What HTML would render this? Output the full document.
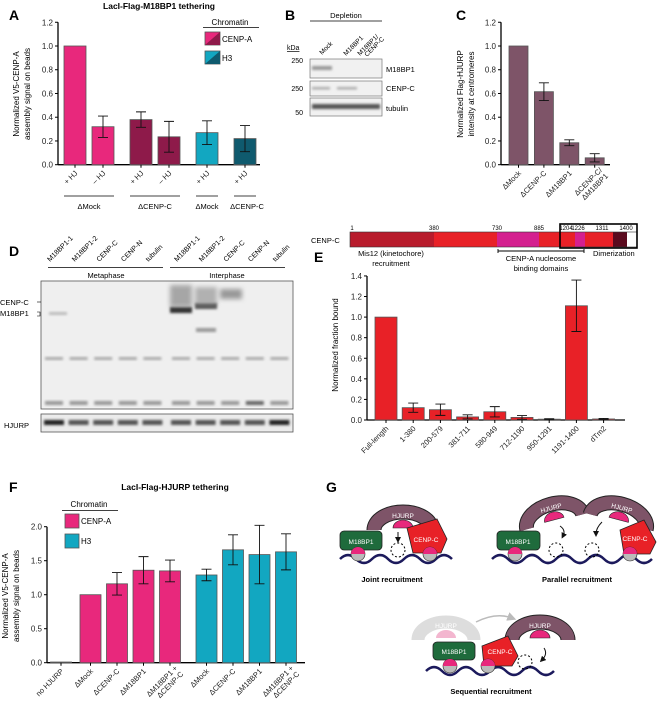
<!DOCTYPE html>
<html><head><meta charset="utf-8"><style>
html,body{margin:0;padding:0;background:#fff}
svg{display:block;font-family:"Liberation Sans",Arial,sans-serif}
</style></head><body>
<svg id="fig" width="659" height="713" viewBox="0 0 659 713" xmlns="http://www.w3.org/2000/svg">
<defs>
<filter id="blur1" x="-20%" y="-50%" width="140%" height="200%"><feGaussianBlur stdDeviation="1.2"/></filter>
<filter id="blur2" x="-20%" y="-50%" width="140%" height="200%"><feGaussianBlur stdDeviation="2.5"/></filter>
<marker id="arr" markerWidth="6" markerHeight="6" refX="3" refY="3" orient="auto"><path d="M0,0 L6,3 L0,6 z" fill="#111"/></marker>
<marker id="arrg" markerWidth="6" markerHeight="6" refX="3" refY="3" orient="auto"><path d="M0,0 L6,3 L0,6 z" fill="#bbb"/></marker>
</defs>

<g font-weight="bold" font-size="14" fill="#000">
<text x="9" y="20">A</text>
<text x="285" y="20">B</text>
<text x="456" y="20">C</text>
<text x="9" y="256">D</text>
<text x="314" y="262">E</text>
<text x="9" y="492">F</text>
<text x="326" y="492">G</text>
</g>

<g id="panelA">
<text x="159" y="9" font-size="8.5" font-weight="bold" text-anchor="middle">LacI-Flag-M18BP1 tethering</text>
<text transform="translate(19,94) rotate(-90)" font-size="8" text-anchor="middle">Normalized V5-CENP-A</text>
<text transform="translate(30,94) rotate(-90)" font-size="8" text-anchor="middle">assembly signal on beads</text>
<g>
<text x="230" y="25" font-size="8" text-anchor="middle">Chromatin</text>
<line x1="203" y1="27.5" x2="259" y2="27.5" stroke="#000" stroke-width="0.8"/>
<rect x="205" y="32" width="15" height="13" fill="#e8287c" stroke="#555" stroke-width="0.8"/>
<path d="M220,32 L220,45 L205,45 z" fill="#8e1a4a"/>
<text x="222" y="42" font-size="8">CENP-A</text>
<rect x="205" y="51" width="15" height="13" fill="#12a7c1" stroke="#555" stroke-width="0.8"/>
<path d="M220,51 L220,64 L205,64 z" fill="#0f5a6e"/>
<text x="222" y="61" font-size="8">H3</text>
</g>
<g font-size="7.5" text-anchor="middle">
<line x1="64" y1="196" x2="114" y2="196" stroke="#000" stroke-width="0.8"/>
<line x1="130" y1="196" x2="180" y2="196" stroke="#000" stroke-width="0.8"/>
<line x1="196" y1="196" x2="218" y2="196" stroke="#000" stroke-width="0.8"/>
<line x1="234" y1="196" x2="256" y2="196" stroke="#000" stroke-width="0.8"/>
<text x="89" y="209">ΔMock</text>
<text x="155" y="209">ΔCENP-C</text>
<text x="207" y="209">ΔMock</text>
<text x="247" y="209">ΔCENP-C</text>
</g>
</g>

<g id="panelB">
<text x="346" y="18" font-size="7.5" text-anchor="middle">Depletion</text>
<line x1="310" y1="21" x2="382" y2="21" stroke="#000" stroke-width="0.8"/>
<g font-size="6.5">
<text transform="translate(322,55) rotate(-45)">Mock</text>
<text transform="translate(346,56) rotate(-45)">M18BP1</text>
<text transform="translate(360,56) rotate(-45)">M18BP1/</text>
<text transform="translate(367,57) rotate(-45)">CENP-C</text>
</g>
<text x="287" y="50" font-size="7" text-decoration="underline">kDa</text>
<g font-size="7" text-anchor="end">
<text x="303" y="63">250</text><text x="303" y="91">250</text><text x="303" y="115">50</text>
</g>
<rect x="310" y="59" width="72" height="19" fill="#f1f1f1" stroke="#777" stroke-width="0.7"/>
<rect x="310" y="81" width="72" height="15" fill="#f1f1f1" stroke="#777" stroke-width="0.7"/>
<rect x="310" y="98" width="72" height="18" fill="#f1f1f1" stroke="#777" stroke-width="0.7"/>
<g filter="url(#blur1)">
<rect x="312" y="66" width="20" height="4" fill="#999"/>
<rect x="312" y="87" width="18" height="2.5" fill="#aaa"/><rect x="337" y="87" width="20" height="2.5" fill="#aaa"/>
<rect x="312" y="104" width="68" height="5" fill="#555"/>
</g>
<g font-size="7.5">
<text x="386" y="72">M18BP1</text><text x="386" y="91">CENP-C</text><text x="386" y="111">tubulin</text>
</g>
</g>

<g id="panelC">
<text transform="translate(463,94) rotate(-90)" font-size="8" text-anchor="middle">Normalized Flag-HJURP</text>
<text transform="translate(474,94) rotate(-90)" font-size="8" text-anchor="middle">intensity at centromeres</text>
</g>

<g id="panelD">
<rect x="41" y="281" width="252" height="128" fill="#efefef" stroke="#555" stroke-width="0.8"/>
<rect x="41" y="414" width="252" height="18" fill="#ececec" stroke="#555" stroke-width="0.8"/>
<g id="dlanes"></g>
<line x1="48" y1="267.5" x2="163" y2="267.5" stroke="#000" stroke-width="0.8"/>
<line x1="170" y1="267.5" x2="285" y2="267.5" stroke="#000" stroke-width="0.8"/>
<text x="106" y="278" font-size="7.5" text-anchor="middle">Metaphase</text>
<text x="227" y="278" font-size="7.5" text-anchor="middle">Interphase</text>
<text x="0" y="305" font-size="7.5">CENP-C</text>
<text x="0" y="316" font-size="7.5">M18BP1</text>
<line x1="37" y1="302" x2="41" y2="302" stroke="#000" stroke-width="0.6"/>
<path d="M37,312 h3 v4 h-3" fill="none" stroke="#000" stroke-width="0.6"/>
<text x="4" y="428" font-size="7.5">HJURP</text>
</g>

<g id="domain">
<text x="311" y="243" font-size="7.5">CENP-C</text>
<rect x="350" y="232" width="84" height="15" fill="#b81c2c"/>
<rect x="434" y="232" width="63" height="15" fill="#e82127"/>
<rect x="497" y="232" width="42" height="15" fill="#d4208f"/>
<rect x="539" y="232" width="22" height="15" fill="#e82127"/>
<rect x="561" y="232" width="14" height="15" fill="#e82127"/>
<rect x="575" y="232" width="10" height="15" fill="#d4208f"/>
<rect x="585" y="232" width="28" height="15" fill="#e82127"/>
<rect x="613" y="232" width="14" height="15" fill="#5a0a1e"/>
<rect x="627" y="232" width="10" height="15" fill="#fff"/>
<rect x="350" y="232" width="287" height="15" fill="none" stroke="#333" stroke-width="0.6"/>
<rect x="560" y="224" width="77" height="24" fill="none" stroke="#000" stroke-width="1.6"/>
<g font-size="6" text-anchor="middle">
<text x="352" y="230">1</text><text x="434" y="230">380</text><text x="497" y="230">730</text><text x="539" y="230">885</text>
<text x="566" y="230">1204</text><text x="578" y="230">1226</text><text x="602" y="230">1311</text><text x="626" y="230">1400</text>
</g>
<text x="391" y="256" font-size="7.5" text-anchor="middle">Mis12 (kinetochore)</text>
<text x="391" y="266" font-size="7.5" text-anchor="middle">recruitment</text>
<path d="M498,249 v4 M498,251 H584 M584,249 v4" stroke="#000" stroke-width="0.9" fill="none"/>
<text x="541" y="261" font-size="7.5" text-anchor="middle">CENP-A nucleosome</text>
<text x="541" y="271" font-size="7.5" text-anchor="middle">binding domains</text>
<text x="593" y="256" font-size="7.5">Dimerization</text>
</g>

<g id="panelE">
<text transform="translate(338,345) rotate(-90)" font-size="8" text-anchor="middle">Normalized fraction bound</text>
</g>

<g id="panelF">
<text x="175" y="490" font-size="8.5" font-weight="bold" text-anchor="middle">LacI-Flag-HJURP tethering</text>
<text transform="translate(8,596) rotate(-90)" font-size="8" text-anchor="middle">Normalized V5-CENP-A</text>
<text transform="translate(19,596) rotate(-90)" font-size="8" text-anchor="middle">assembly signal on beads</text>
<g>
<text x="89" y="507" font-size="8" text-anchor="middle">Chromatin</text>
<line x1="62" y1="510.5" x2="118" y2="510.5" stroke="#000" stroke-width="0.8"/>
<rect x="65" y="514" width="14" height="14" fill="#e8287c" stroke="#555" stroke-width="0.8"/>
<text x="81" y="524" font-size="8">CENP-A</text>
<rect x="65" y="534" width="14" height="14" fill="#12a7c1" stroke="#555" stroke-width="0.8"/>
<text x="81" y="544" font-size="8">H3</text>
</g>
</g>

<g id="panelG" font-size="7">
<g>
<path d="M340,559 q8,-8 16,0 t16,0 t16,0 t16,0 t16,0 t16,0 t16,0" fill="none" stroke="#1c1a5c" stroke-width="2.5"/>
<path d="M374,530 A29,18 0 0 1 432,530" fill="none" stroke="#222" stroke-width="15"/>
<path d="M374,530 A29,18 0 0 1 432,530" fill="none" stroke="#7e5468" stroke-width="13"/>
<path d="M393,528 a10,8 0 0 1 20,0 z" fill="#e8287c" stroke="#222" stroke-width="0.6"/>
<text x="403" y="518" fill="#fff" text-anchor="middle" font-size="6.5">HJURP</text>
<rect x="340" y="531" width="42" height="19" rx="4" fill="#1f6b3c" stroke="#222" stroke-width="0.8"/>
<text x="361" y="544" fill="#fff" text-anchor="middle" font-size="6.5">M18BP1</text>
<path d="M407,528 l30,-9 l10,20 l-6,14 l-28,0 z" fill="#e82127" stroke="#222" stroke-width="0.8"/>
<text x="426" y="542" fill="#fff" text-anchor="middle" font-size="6.5">CENP-C</text>
<circle cx="358" cy="554" r="7" fill="#bbb" stroke="#222" stroke-width="0.6"/><path d="M351,554 a7,7 0 0 1 14,0 z" fill="#e8287c"/>
<circle cx="430" cy="554" r="7" fill="#bbb" stroke="#222" stroke-width="0.6"/><path d="M423,554 a7,7 0 0 1 14,0 z" fill="#e8287c"/>
<circle cx="398" cy="550" r="7" fill="none" stroke="#000" stroke-dasharray="2,2"/>
<line x1="398" y1="532" x2="398" y2="540" stroke="#111" marker-end="url(#arr)"/>
<text x="392" y="582" font-weight="bold" text-anchor="middle" font-size="7.5">Joint recruitment</text>
</g>
<g>
<path d="M492,559 q8,-8 16,0 t16,0 t16,0 t16,0 t16,0 t16,0 t16,0 t16,0 t16,0 t16,0" fill="none" stroke="#1c1a5c" stroke-width="2.5"/>
<rect x="497" y="531" width="43" height="19" rx="4" fill="#1f6b3c" stroke="#222" stroke-width="0.8"/>
<text x="518" y="544" fill="#fff" text-anchor="middle" font-size="6.5">M18BP1</text>
<g transform="rotate(-15 553 515)">
<path d="M524,522 A29,18 0 0 1 582,522" fill="none" stroke="#222" stroke-width="15"/>
<path d="M524,522 A29,18 0 0 1 582,522" fill="none" stroke="#7e5468" stroke-width="13"/>
<path d="M543,520 a10,8 0 0 1 20,0 z" fill="#e8287c" stroke="#222" stroke-width="0.6"/>
<text x="553" y="510" fill="#fff" text-anchor="middle" font-size="6.5">HJURP</text>
</g>
<g transform="rotate(15 620 515)">
<path d="M591,522 A29,18 0 0 1 649,522" fill="none" stroke="#222" stroke-width="15"/>
<path d="M591,522 A29,18 0 0 1 649,522" fill="none" stroke="#7e5468" stroke-width="13"/>
<path d="M610,520 a10,8 0 0 1 20,0 z" fill="#e8287c" stroke="#222" stroke-width="0.6"/>
<text x="620" y="510" fill="#fff" text-anchor="middle" font-size="6.5">HJURP</text>
</g>
<path d="M620,530 l24,-10 l12,22 l-6,12 l-26,0 z" fill="#e82127" stroke="#222" stroke-width="0.8"/>
<text x="635" y="541" fill="#fff" text-anchor="middle" font-size="6.5">CENP-C</text>
<circle cx="515" cy="554" r="7" fill="#bbb" stroke="#222" stroke-width="0.6"/><path d="M508,554 a7,7 0 0 1 14,0 z" fill="#e8287c"/>
<circle cx="630" cy="554" r="7" fill="#bbb" stroke="#222" stroke-width="0.6"/><path d="M623,554 a7,7 0 0 1 14,0 z" fill="#e8287c"/>
<circle cx="556" cy="550" r="7" fill="none" stroke="#000" stroke-dasharray="2,2"/>
<circle cx="592" cy="550" r="7" fill="none" stroke="#000" stroke-dasharray="2,2"/>
<path d="M560,526 q6,4 3,10" fill="none" stroke="#111" marker-end="url(#arr)"/>
<path d="M602,522 q-6,6 -6,12" fill="none" stroke="#111" marker-end="url(#arr)"/>
<text x="577" y="582" font-weight="bold" text-anchor="middle" font-size="7.5">Parallel recruitment</text>
</g>
<g>
<path d="M426,671 q8,-8 16,0 t16,0 t16,0 t16,0 t16,0 t16,0 t16,0 t16,0" fill="none" stroke="#1c1a5c" stroke-width="2.5"/>
<path d="M418,640 A28,18 0 0 1 474,640" fill="none" stroke="#ddd" stroke-width="13"/>
<path d="M436,638 a10,8 0 0 1 20,0 z" fill="#f3b6cf"/>
<text x="446" y="628" fill="#fff" text-anchor="middle" font-size="6.5">HJURP</text>
<path d="M476,622 q20,-10 36,-4" fill="none" stroke="#bbb" stroke-width="1.5" marker-end="url(#arrg)"/>
<path d="M512,640 A28,18 0 0 1 568,640" fill="none" stroke="#222" stroke-width="15"/>
<path d="M512,640 A28,18 0 0 1 568,640" fill="none" stroke="#7e5468" stroke-width="13"/>
<path d="M530,638 a10,8 0 0 1 20,0 z" fill="#e8287c" stroke="#222" stroke-width="0.6"/>
<text x="540" y="628" fill="#fff" text-anchor="middle" font-size="6.5">HJURP</text>
<rect x="433" y="642" width="42" height="18" rx="4" fill="#1f6b3c" stroke="#222" stroke-width="0.8"/>
<text x="454" y="654" fill="#fff" text-anchor="middle" font-size="6.5">M18BP1</text>
<path d="M482,646 l26,-10 l10,20 l-6,10 l-28,0 z" fill="#e82127" stroke="#222" stroke-width="0.8"/>
<text x="500" y="654" fill="#fff" text-anchor="middle" font-size="6.5">CENP-C</text>
<circle cx="450" cy="666" r="7" fill="#bbb" stroke="#222" stroke-width="0.6"/><path d="M443,666 a7,7 0 0 1 14,0 z" fill="#e8287c"/>
<circle cx="488" cy="666" r="7" fill="#bbb" stroke="#222" stroke-width="0.6"/><path d="M481,666 a7,7 0 0 1 14,0 z" fill="#e8287c"/>
<circle cx="525" cy="662" r="7" fill="none" stroke="#000" stroke-dasharray="2,2"/>
<path d="M544,648 q4,6 -2,12" fill="none" stroke="#111" marker-end="url(#arr)"/>
<text x="491" y="694" font-weight="bold" text-anchor="middle" font-size="7.5">Sequential recruitment</text>
</g>
</g>
</svg>
<script>
// ---- Panel A data ----
const aCats = ['+ HJ', '\u2013 HJ', '+ HJ', '\u2013 HJ', '+ HJ', '+ HJ'];
const aGroups = [0, 0, 1, 1, 2, 3];
const aValues = [1.0, 0.32, 0.38, 0.235, 0.27, 0.22];
const aErrors = [0, 0.09, 0.065, 0.13, 0.1, 0.11];
const aColors = ['#e8287c', '#e8287c', '#8e1a4a', '#8e1a4a', '#12a7c1', '#0f5a6e'];
const aTicks = ['0.0', '0.2', '0.4', '0.6', '0.8', '1.0', '1.2'];
// ---- Panel C data ----
const cCats = ['\u0394Mock', '\u0394CENP-C', '\u0394M18BP1', '\u0394CENP-C/|\u0394M18BP1'];
const cValues = [1.0, 0.615, 0.185, 0.058];
const cErrors = [0, 0.075, 0.025, 0.035];
const cTicks = ['0.0', '0.2', '0.4', '0.6', '0.8', '1.0', '1.2'];
// ---- Panel E data ----
const eCats = ['Full-length', '1-380', '200-579', '381-711', '580-949', '712-1190', '950-1291', '1191-1400', 'dTm2'];
const eValues = [1.0, 0.12, 0.10, 0.03, 0.08, 0.025, 0.008, 1.11, 0.01];
const eErrors = [0, 0.045, 0.055, 0.02, 0.05, 0.018, 0.005, 0.25, 0.005];
const eTicks = ['0.0', '0.2', '0.4', '0.6', '0.8', '1.0', '1.2', '1.4'];
// ---- Panel F data ----
const fCats = ['no HJURP', '\u0394Mock', '\u0394CENP-C', '\u0394M18BP1', '\u0394M18BP1 +|\u0394CENP-C', '\u0394Mock', '\u0394CENP-C', '\u0394M18BP1', '\u0394M18BP1 +|\u0394CENP-C'];
const fGroups = [0, 1, 1, 1, 1, 2, 2, 2, 2];
const fValues = [0.01, 1.0, 1.16, 1.36, 1.35, 1.29, 1.66, 1.59, 1.63];
const fErrors = [0, 0, 0.165, 0.2, 0.16, 0.085, 0.22, 0.43, 0.265];
const fTicks = ['0.0', '0.5', '1.0', '1.5', '2.0'];
// ---- Panel D lanes ----
const dLanes = ['M18BP1-1', 'M18BP1-2', 'CENP-C', 'CENP-N', 'tubulin', 'M18BP1-1', 'M18BP1-2', 'CENP-C', 'CENP-N', 'tubulin'];

const NS = 'http://www.w3.org/2000/svg';
function mk(tag, attrs, parent) {
  const e = document.createElementNS(NS, tag);
  for (const k in attrs) e.setAttribute(k, attrs[k]);
  parent.appendChild(e);
  return e;
}
function txt(str, attrs, parent) {
  const e = mk('text', attrs, parent);
  const parts = String(str).split('|');
  if (parts.length === 1) e.textContent = str;
  else parts.forEach((p, i) => { const t = mk('tspan', {x: 0, dy: i ? '1.1em' : 0}, e); t.textContent = p; });
  return e;
}

function barChart(o) {
  const g = document.getElementById(o.gid);
  const y = v => o.y0 - v * o.ppu;
  const ax = mk('line', {x1: o.axX, y1: o.y0, x2: o.axX, y2: y(o.tickVals[o.tickVals.length - 1]), stroke: '#000', 'stroke-width': 1.3}, g);
  
  
  const xa = mk('line', {x1: o.axX, y1: o.y0, x2: o.axEnd, y2: o.y0, stroke: '#000', 'stroke-width': 1.3}, g);
  
  
  o.tickVals.forEach((tv, i) => {
    mk('line', {x1: o.axX - 3, y1: y(tv), x2: o.axX, y2: y(tv), stroke: '#000', 'stroke-width': 1}, g);
    const t = txt(o.ticks[i], {x: o.axX - 5, y: y(tv) + 3, 'font-size': 8, 'text-anchor': 'end', fill: '#222'}, g);
    
    
  });
  o.values.forEach((v, i) => {
    const cx = o.xf(i);
    const r = mk('rect', {x: cx - o.bw / 2, y: y(v), width: o.bw, height: Math.max(0.5, v * o.ppu), fill: o.color(i), stroke: '#555', 'stroke-width': 0.8}, g);
    
    
    const er = o.errors[i];
    if (er > 0) {
      const eb = mk('path', {d: `M${cx - 5},${y(v + er)} h10 M${cx},${y(v + er)} V${y(v - er)} M${cx - 5},${y(v - er)} h10`, stroke: '#111', 'stroke-width': 0.9, fill: 'none'}, g);
      
      
    }
    mk('line', {x1: cx, y1: o.y0, x2: cx, y2: o.y0 + 3, stroke: '#000', 'stroke-width': 1}, g);
    const lab = txt(o.cats[i], {transform: `translate(${cx + 3},${o.y0 + 9}) rotate(-45)`, 'font-size': o.fs || 7.5, 'text-anchor': 'end', fill: '#222'}, g);
    
    
    if (String(o.cats[i]).includes('|')) { lab.setAttribute('transform', `translate(${cx + 8},${o.y0 + 6}) rotate(-45)`); }
  });
}

barChart({gid: 'panelA', prefix: 'panel-a', cats: aCats, values: aValues, errors: aErrors, ticks: aTicks,
  tickVals: aTicks.map(Number), y0: 164.7, ppu: 118.7, axX: 58, axEnd: 260, bw: 22,
  xf: i => 75 + i * 28 + aGroups[i] * 10, color: i => aColors[i]});
barChart({gid: 'panelC', prefix: 'panel-c', cats: cCats, values: cValues, errors: cErrors, ticks: cTicks,
  tickVals: cTicks.map(Number), y0: 164.7, ppu: 118.7, axX: 501, axEnd: 610, bw: 19,
  xf: i => 518.5 + i * 25.4, color: i => '#7e5468'});
barChart({gid: 'panelE', prefix: 'panel-e', cats: eCats, values: eValues, errors: eErrors, ticks: eTicks,
  tickVals: eTicks.map(Number), y0: 420, ppu: 102.9, axX: 367, axEnd: 625, bw: 22,
  xf: i => 386 + i * 27.2, color: i => '#e82127'});
barChart({gid: 'panelF', prefix: 'panel-f', cats: fCats, values: fValues, errors: fErrors, ticks: fTicks,
  tickVals: fTicks.map(Number), y0: 662.7, ppu: 68, axX: 47, axEnd: 305, bw: 21,
  xf: i => 61 + i * 26.5 + [0, 3, 13][fGroups[i]], color: i => fGroups[i] === 2 ? '#12a7c1' : '#e8287c'});

(function () {
  const g = document.getElementById('dlanes');
  dLanes.forEach((name, i) => {
    const cx = 54 + i * 24.6 + (i >= 5 ? 4 : 0);
    const t = txt(name, {transform: `translate(${cx - 4},${262}) rotate(-45)`, 'font-size': 7}, g);
    
    
    mk('rect', {x: cx - 9, y: 357, width: 18, height: 3, fill: '#aaa', filter: 'url(#blur1)'}, g);
    mk('rect', {x: cx - 9, y: 401, width: 18, height: 4, fill: i === 8 ? '#666' : '#999', filter: 'url(#blur1)'}, g);
    mk('rect', {x: cx - 10, y: 420, width: 20, height: 5, fill: i === 0 || i === 9 ? '#222' : '#555', filter: 'url(#blur1)'}, g);
  });
  mk('rect', {x: 170, y: 307, width: 22, height: 6, fill: '#333', filter: 'url(#blur1)'}, g);
  mk('rect', {x: 170, y: 285, width: 22, height: 22, fill: '#777', opacity: 0.6, filter: 'url(#blur2)'}, g);
  mk('rect', {x: 195, y: 303, width: 22, height: 6, fill: '#555', filter: 'url(#blur1)'}, g);
  mk('rect', {x: 195, y: 287, width: 22, height: 18, fill: '#888', opacity: 0.6, filter: 'url(#blur2)'}, g);
  mk('rect', {x: 196, y: 328, width: 20, height: 4, fill: '#999', filter: 'url(#blur1)'}, g);
  mk('rect', {x: 220, y: 289, width: 22, height: 10, fill: '#999', filter: 'url(#blur2)'}, g);
  mk('rect', {x: 49, y: 312, width: 18, height: 3, fill: '#bbb', filter: 'url(#blur1)'}, g);
})();
</script>
</body></html>
